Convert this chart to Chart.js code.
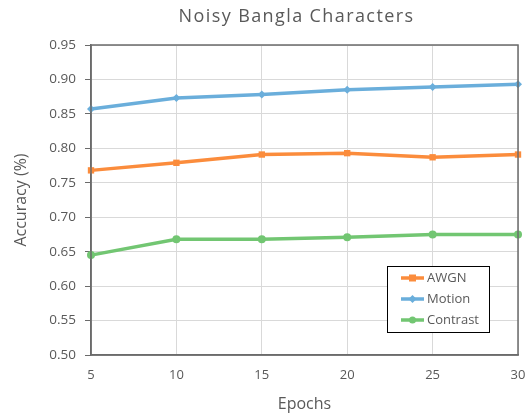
<!DOCTYPE html>
<html>
<head>
<meta charset="utf-8">
<script src="https://cdn.jsdelivr.net/npm/chart.js@4"></script>
<style>
  html, body { margin: 0; padding: 0; background: #fff; }
  #wrap { width: 527px; height: 419px; }
</style>
</head>
<body>
<div id="wrap"><canvas id="accChart"></canvas></div>
<script>
const epochs = [5, 10, 15, 20, 25, 30];
const awgn = [0.768, 0.779, 0.791, 0.793, 0.787, 0.791];
const motion = [0.857, 0.873, 0.878, 0.885, 0.889, 0.893];
const contrast = [0.645, 0.668, 0.668, 0.671, 0.675, 0.675];
const yTicks = [0.50, 0.55, 0.60, 0.65, 0.70, 0.75, 0.80, 0.85, 0.90, 0.95];
const chartTitle = 'Noisy Bangla Characters';

const FONT = "'Open Sans', 'Liberation Sans', sans-serif";
const TEXT = '#595959';

const toPoints = (vals) => vals.map((v, i) => ({ x: epochs[i], y: v }));

const makeSet = (label, vals, color, style) => ({
  label: label,
  data: toPoints(vals),
  borderColor: color,
  backgroundColor: color,
  borderWidth: 3.5,
  pointStyle: style,
  pointRadius: style === 'rect' ? 4.5 : 4,
  pointBorderWidth: 0,
  tension: 0,
  clip: false,
});

// box round the plot area
const frame = {
  id: 'frame',
  afterDatasetsDraw(chart) {
    const { ctx, chartArea: a } = chart;
    ctx.save();
    ctx.strokeStyle = '#6b6b6b';
    ctx.lineWidth = 1.5;
    ctx.strokeRect(a.left, a.top, a.right - a.left, a.bottom - a.top);
    ctx.restore();
  },
};

// spaced-out title, centred over the plot area
const spacedTitle = {
  id: 'spacedTitle',
  afterDraw(chart) {
    const { ctx, chartArea: a } = chart;
    ctx.save();
    ctx.font = '18px ' + FONT;
    ctx.letterSpacing = '1.4px';
    ctx.fillStyle = TEXT;
    ctx.textAlign = 'center';
    ctx.textBaseline = 'middle';
    ctx.fillText(chartTitle, (a.left + a.right) / 2 - 8, 17);
    ctx.restore();
  },
};

// legend box inside the plot, lower right
const boxLegend = {
  id: 'boxLegend',
  afterDraw(chart) {
    const { ctx, chartArea: a } = chart;
    const w = 102, h = 66;
    const x = a.right - 131, y = a.bottom - 89;
    ctx.save();
    ctx.fillStyle = '#fff';
    ctx.fillRect(x, y, w, h);
    ctx.strokeStyle = '#000';
    ctx.lineWidth = 1;
    ctx.strokeRect(x + 0.5, y + 0.5, w, h);
    ctx.font = '13px ' + FONT;
    ctx.textBaseline = 'middle';
    chart.data.datasets.forEach((ds, i) => {
      const cy = y + 12 + i * 21;
      ctx.strokeStyle = ds.borderColor;
      ctx.lineWidth = 3.5;
      ctx.beginPath();
      ctx.moveTo(x + 14, cy);
      ctx.lineTo(x + 37, cy);
      ctx.stroke();
      ctx.fillStyle = ds.borderColor;
      const mx = x + 25.5;
      ctx.beginPath();
      if (ds.pointStyle === 'rect') {
        ctx.rect(mx - 3.5, cy - 3.5, 7, 7);
      } else if (ds.pointStyle === 'rectRot') {
        ctx.moveTo(mx, cy - 4); ctx.lineTo(mx + 4, cy); ctx.lineTo(mx, cy + 4); ctx.lineTo(mx - 4, cy);
        ctx.closePath();
      } else {
        ctx.arc(mx, cy, 3.5, 0, Math.PI * 2);
      }
      ctx.fill();
      ctx.fillStyle = TEXT;
      ctx.fillText(ds.label, x + 40, cy);
    });
    ctx.restore();
  },
};

new Chart(document.getElementById('accChart'), {
  type: 'line',
  data: {
    datasets: [
      makeSet('AWGN', awgn, '#fb8c3c', 'rect'),
      makeSet('Motion', motion, '#6aaedb', 'rectRot'),
      makeSet('Contrast', contrast, '#72c672', 'circle'),
    ],
  },
  options: {
    responsive: true,
    maintainAspectRatio: false,
    animation: false,
    layout: { padding: { top: 45, right: 9, left: 0, bottom: 5 } },
    plugins: {
      legend: { display: false },
      tooltip: { enabled: false },
      title: { display: false },
    },
    scales: {
      x: {
        type: 'linear',
        min: 5,
        max: 30,
        afterFit: (s) => { s.height = 59; s.paddingLeft = 0; s.paddingRight = 0; },
        ticks: {
          stepSize: 5,
          color: TEXT,
          padding: 12,
          font: { family: FONT, size: 13 },
        },
        grid: { color: '#d9d9d9', lineWidth: 1, drawTicks: false },
        border: { color: '#6b6b6b', width: 1.5 },
        title: {
          display: true,
          text: 'Epochs',
          color: TEXT,
          font: { family: FONT, size: 16 },
          padding: { top: 0, bottom: 0 },
        },
      },
      y: {
        min: 0.5,
        max: 0.95,
        afterFit: (s) => { s.width = 91; },
        afterBuildTicks: (s) => { s.ticks = yTicks.map((v) => ({ value: v })); },
        ticks: {
          color: TEXT,
          padding: 9,
          font: { family: FONT, size: 13.5 },
          callback: (v) => Number(v).toFixed(2),
        },
        grid: { color: '#d9d9d9', lineWidth: 1, tickLength: 6, tickColor: '#6b6b6b' },
        border: { color: '#6b6b6b', width: 1.5 },
        title: {
          display: true,
          text: 'Accuracy (%)',
          color: TEXT,
          font: { family: FONT, size: 16 },
          padding: { top: 12, bottom: 0 },
        },
      },
    },
  },
  plugins: [frame, spacedTitle, boxLegend],
});
</script>
</body>
</html>
